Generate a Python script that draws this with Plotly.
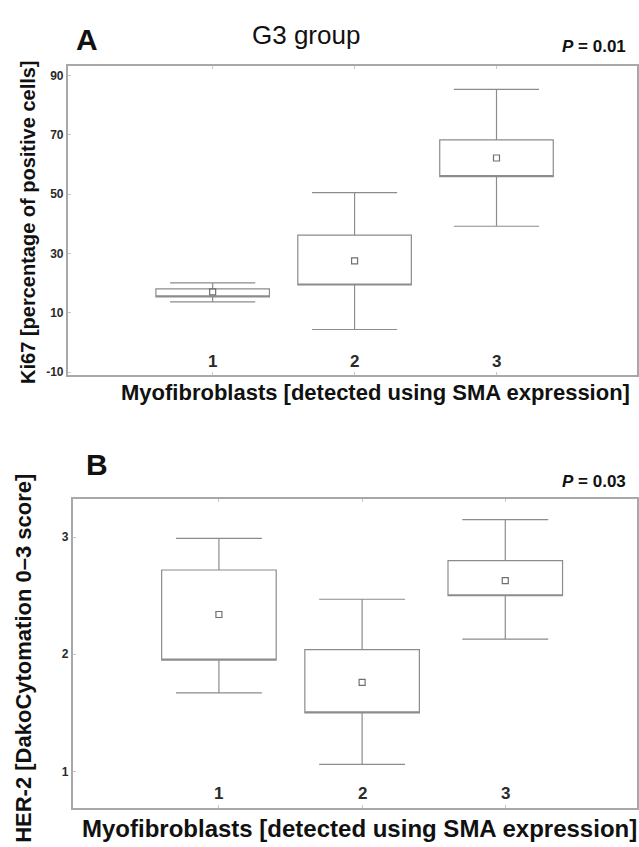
import plotly.graph_objects as go

# ---- data ----
groups = [1, 2, 3]
group_labels = ["1", "2", "3"]

# Panel A: Ki67 (% positive cells)
ki67_lower = [13.7, 4.4, 39.2]
ki67_q1 = [15.4, 19.4, 55.9]
ki67_mean = [17.1, 27.5, 62.2]
ki67_q3 = [18.1, 36.2, 68.3]
ki67_upper = [20.1, 50.5, 85.3]
ki67_ticks = [-10, 10, 30, 50, 70, 90]

# Panel B: HER-2 score
her2_lower = [1.67, 1.06, 2.13]
her2_q1 = [1.95, 1.50, 2.50]
her2_mean = [2.34, 1.76, 2.63]
her2_q3 = [2.72, 2.04, 2.80]
her2_upper = [2.99, 2.47, 3.15]
her2_ticks = [1, 2, 3]

W, H = 639, 847
FONT = "Liberation Sans, Arial, sans-serif"
LINE = "#8c8c8c"
FRAME = "#a8a8a8"
TXT = "#2a2a2a"


def py(ypx):
    return 1 - ypx / H


def px(xpx):
    return xpx / W


fig = go.Figure()

for (lo, q1, mn, q3, up, xa, ya) in [
    (ki67_lower, ki67_q1, ki67_mean, ki67_q3, ki67_upper, "x", "y"),
    (her2_lower, her2_q1, her2_mean, her2_q3, her2_upper, "x2", "y2"),
]:
    fig.add_trace(go.Box(
        x=groups, q1=q1, median=q1, q3=q3, lowerfence=lo, upperfence=up,
        width=0.8, whiskerwidth=0.75, fillcolor="white",
        line=dict(color=LINE, width=1.2), boxpoints=False,
        xaxis=xa, yaxis=ya, showlegend=False, hoverinfo="skip",
    ))
    fig.add_trace(go.Scatter(
        x=groups, y=mn, mode="markers",
        marker=dict(symbol="square-open", size=6, color="#707070",
                    line=dict(width=1.2, color="#707070")),
        xaxis=xa, yaxis=ya, showlegend=False, hoverinfo="skip",
    ))

# domains (pixels -> paper)
top_dom_x = [px(68), px(638)]
top_dom_y = [py(377), py(66)]
bot_dom_x = [px(73), px(638)]
bot_dom_y = [py(812), py(501)]

xcommon = dict(showgrid=False, zeroline=False, showline=True, mirror="ticks",
               linecolor=FRAME, linewidth=2, ticks="inside", ticklen=3,
               tickcolor="#c8c8c8", tickvals=groups, showticklabels=False)
ycommon = dict(showgrid=False, zeroline=False, showline=True, mirror=True,
               linecolor=FRAME, linewidth=2, ticks="inside", ticklen=3,
               tickcolor="#c8c8c8",
               tickfont=dict(family=FONT, size=12, color=TXT, weight="bold"))

fig.update_layout(
    width=W, height=H, margin=dict(l=0, r=0, t=0, b=0),
    paper_bgcolor="white", plot_bgcolor="white",
    xaxis=dict(domain=top_dom_x, range=[-0.02, 3.99], anchor="y", **xcommon),
    yaxis=dict(domain=top_dom_y, range=[-11, 93.3], anchor="x",
               tickvals=ki67_ticks, ticktext=[str(t) for t in ki67_ticks], **ycommon),
    xaxis2=dict(domain=bot_dom_x, range=[-0.02, 3.92], anchor="y2", **xcommon),
    yaxis2=dict(domain=bot_dom_y, range=[0.685, 3.33], anchor="x2",
                tickvals=her2_ticks, ticktext=[str(t) for t in her2_ticks], **ycommon),
)

ann = []
# category labels inside plot
for g, lab in zip(groups, group_labels):
    ann.append(dict(x=g, xref="x", y=py(363), yref="paper", text=lab, showarrow=False,
                    font=dict(family=FONT, size=17, color=TXT, weight="bold"),
                    xanchor="center", yanchor="middle"))
    ann.append(dict(x=g, xref="x2", y=py(797), yref="paper", text=lab, showarrow=False,
                    font=dict(family=FONT, size=17, color=TXT, weight="bold"),
                    xanchor="center", yanchor="middle"))

ann += [
    dict(x=px(87), y=py(40), text="A", font=dict(family=FONT, size=30, color="#111", weight="bold"),
         xanchor="center", yanchor="middle"),
    dict(x=px(306), y=py(35), text="G3 group", font=dict(family=FONT, size=26, color="#111"),
         xanchor="center", yanchor="middle"),
    dict(x=px(629), y=py(47), text="<i>P</i> = 0.01", font=dict(family=FONT, size=17, color="#111", weight="bold"),
         xanchor="right", yanchor="middle"),
    dict(x=px(97), y=py(467), text="B", font=dict(family=FONT, size=30, color="#111", weight="bold"),
         xanchor="center", yanchor="middle"),
    dict(x=px(629), y=py(484), text="<i>P</i> = 0.03", font=dict(family=FONT, size=17, color="#111", weight="bold"),
         xanchor="right", yanchor="middle"),
    dict(x=px(376), y=py(394), text="Myofibroblasts [detected using SMA expression]",
         font=dict(family=FONT, size=22, color="#111", weight="bold"), xanchor="center", yanchor="middle"),
    dict(x=px(360), y=py(832), text="Myofibroblasts [detected using SMA expression]",
         font=dict(family=FONT, size=24, color="#111", weight="bold"), xanchor="center", yanchor="middle"),
    dict(x=px(28), y=py(223), text="Ki67 [percentage of positive cells]", textangle=-90,
         font=dict(family=FONT, size=20, color="#111", weight="bold"), xanchor="center", yanchor="middle"),
    dict(x=px(24), y=py(661), text="HER-2 [DakoCytomation 0–3 score]", textangle=-90,
         font=dict(family=FONT, size=22, color="#111", weight="bold"), xanchor="center", yanchor="middle"),
]
for a in ann:
    a.setdefault("xref", "paper")
    a.setdefault("yref", "paper")
    a.setdefault("showarrow", False)
fig.update_layout(annotations=ann)

fig.write_html(
    "out.html",
    config={"displayModeBar": False},
    post_script="document.body.style.margin='0';document.body.style.overflow='hidden';",
)
